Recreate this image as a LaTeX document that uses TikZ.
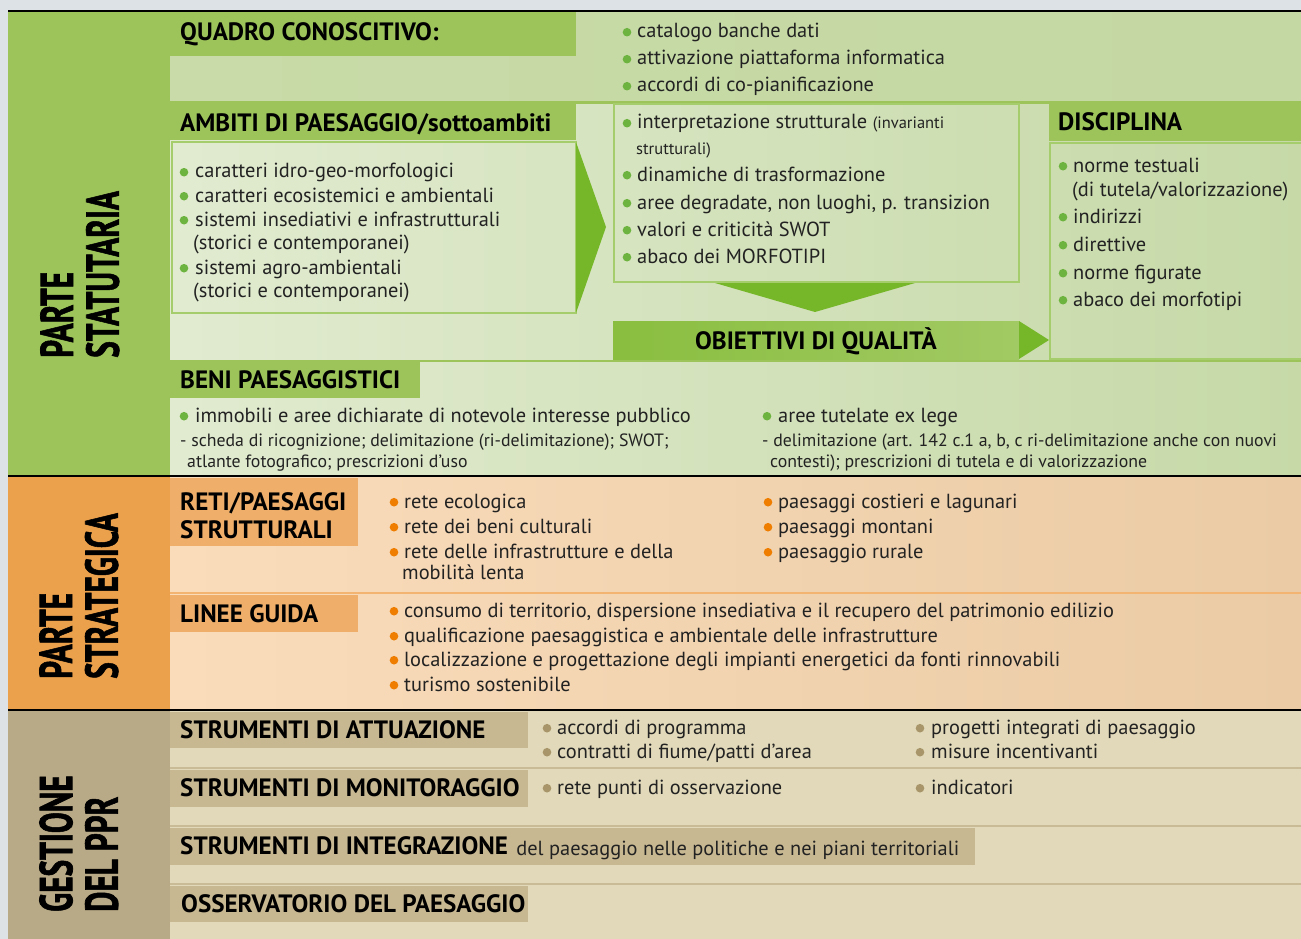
\documentclass[tikz,border=0pt]{standalone}
\usepackage{fontspec}
\setmainfont{PT Sans}
\newfontfamily\vlabfam{PT Sans}[BoldFeatures={FakeBold=1.6}]
\usepackage{graphicx}
\definecolor{bgrey}{HTML}{DCE2E5}
\definecolor{gdark}{HTML}{9CC45A}
\definecolor{garrow}{HTML}{76B72A}
\definecolor{glightL}{HTML}{E1EBD0}
\definecolor{glightR}{HTML}{C6D9A7}
\definecolor{gquadL}{HTML}{C8DBA8}
\definecolor{gquadR}{HTML}{C4D8A3}
\definecolor{gbox}{HTML}{A6CD6C}
\definecolor{gbul}{HTML}{6DB33F}
\definecolor{gobjL}{HTML}{89BE3F}
\definecolor{gobjR}{HTML}{A2CA64}
\definecolor{odark}{HTML}{EBA04C}
\definecolor{ohead}{HTML}{EFAF6B}
\definecolor{olightL}{HTML}{FADCBB}
\definecolor{olightR}{HTML}{EACBA5}
\definecolor{obul}{HTML}{EE7D00}
\definecolor{oline}{HTML}{F2B470}
\definecolor{tdark}{HTML}{B8AA86}
\definecolor{thead}{HTML}{C7B892}
\definecolor{tlight}{HTML}{E1D9B9}
\definecolor{tline}{HTML}{C9BB96}
\definecolor{tbul}{HTML}{A8956A}
\definecolor{txtc}{HTML}{222222}
\newcommand\bodyf{\fontsize{20.4}{24}\selectfont}
\newcommand\smallf{\fontsize{17.8}{20}\selectfont}
\newcommand\tinyf{\fontsize{16.5}{20}\selectfont}
\newcommand\headf{\fontsize{25.1}{28}\selectfont\bfseries}
\newcommand\vlabf{\vlabfam\fontsize{46}{43}\selectfont\bfseries}
\newcommand\bit[6]{\fill[#5] (#2,#4-4.8) circle (4.3pt); \node[txt] (#1) at (#3,#4) {#6};}
\newcommand\vtext[2]{\scalebox{0.68}[1]{\begin{tabular}{@{}l@{}}#1\\#2\end{tabular}}}
\begin{document}
\begin{tikzpicture}[x=1pt,y=-1pt,
 txt/.style={anchor=base west, inner sep=0pt, text=txtc, font=\bodyf, yshift=-1pt},
 sm/.style={txt, font=\smallf},
 hd/.style={anchor=base west, inner sep=0pt, text=black, font=\headf, yshift=-0.5pt},
 vlab/.style={rotate=90, anchor=west, inner sep=0pt, text=black, font=\vlabf},
 blk/.style={black, line width=2.5pt},
 boxline/.style={gbox, line width=1.5pt}]
\useasboundingbox (0,0) rectangle (1301,939);
\fill[bgrey] (0,0) rectangle (1301,939);
% ---------- green section ----------
\fill[gdark] (8,12) rectangle (170,476);
\fill[left color=glightL, right color=glightR] (170,12) rectangle (1301,476);
\fill[left color=gquadL, right color=gquadR] (170,12) rectangle (1301,101);
\fill[gdark] (170,12) rectangle (576,56);
\draw[gdark, line width=2.5pt] (170,102.5) -- (1301,102.5);
\fill[gdark] (170,104) rectangle (576,140);
\draw[boxline] (172,142) rectangle (576,313);
\fill[garrow] (576,142) -- (606,227) -- (576,313) -- cycle;
\draw[boxline] (614,104) rectangle (1019,282);
\fill[garrow] (715,283) -- (915,283) -- (815,312) -- cycle;
\fill[left color=gobjL, right color=gobjR] (613,321) rectangle (1019,359);
\fill[garrow] (1019,321) -- (1049,340) -- (1019,359) -- cycle;
\fill[gdark] (1049,104) rectangle (1301,141);
\draw[boxline] (1050,143) rectangle (1305,359);
\draw[gdark, line width=2pt] (170,361) -- (1301,361);
\fill[gdark] (170,362) rectangle (420,398);
\draw[blk] (8,11) -- (1301,11);
% ---------- orange section ----------
\fill[odark] (8,477) rectangle (170,709);
\fill[left color=olightL, right color=olightR] (170,477) rectangle (1301,709);
\fill[ohead] (170,478) rectangle (358,546);
\draw[oline, line width=2pt] (170,593) -- (1301,593);
\fill[ohead] (170,595) rectangle (358,632);
\draw[blk] (8,476) -- (1301,476);
% ---------- tan section ----------
\fill[tdark] (8,711) rectangle (170,939);
\fill[tlight] (170,711) rectangle (1301,939);
\fill[thead] (170,712) rectangle (528,748);
\draw[tline, line width=2.5pt] (170,768) -- (1301,768);
\fill[thead] (170,770) rectangle (528,807);
\draw[tline, line width=2.5pt] (170,826) -- (1301,826);
\fill[thead] (170,828) rectangle (975,865);
\draw[tline, line width=2.5pt] (170,884) -- (1301,884);
\fill[thead] (170,886) rectangle (528,922);
\draw[blk] (8,710) -- (1301,710);
% ---------- vertical labels ----------
\node[vlab] (vstat) at (86,358) {\vtext{PARTE}{STATUTARIA}};
\node[vlab] (vstrat) at (85,679) {\vtext{PARTE}{STRATEGICA}};
\node[vlab] (vgest) at (85,912) {\vtext{GESTIONE}{DEL PPR}};
% ---------- green texts ----------
\node[hd] (hquad) at (180,40) {QUADRO CONOSCITIVO:};
\bit{q1}{627}{637}{37}{gbul}{catalogo banche dati}
\bit{q2}{627}{637}{64}{gbul}{attivazione piattaforma informatica}
\bit{q3}{627}{637}{91}{gbul}{accordi di co-pianificazione}
\node[hd] (hamb) at (180,131) {AMBITI DI PAESAGGIO/sottoambiti};
\bit{a1}{184}{195}{177}{gbul}{caratteri idro-geo-morfologici}
\bit{a2}{184}{195}{201}{gbul}{caratteri ecosistemici e ambientali}
\bit{a3}{184}{195}{225}{gbul}{sistemi insediativi e infrastrutturali}
\node[txt] (a3b) at (193,248) {(storici e contemporanei)};
\bit{a4}{184}{195}{273}{gbul}{sistemi agro-ambientali}
\node[txt] (a4b) at (193,296) {(storici e contemporanei)};
\bit{m1}{627}{637}{128}{gbul}{interpretazione strutturale {\tinyf(invarianti}}
\node[txt, font=\tinyf] (m1b) at (636,153) {strutturali)};
\bit{m2}{627}{637}{180}{gbul}{dinamiche di trasformazione}
\bit{m3}{627}{637}{208}{gbul}{aree degradate, non luoghi, p. transizion}
\bit{m4}{627}{637}{235}{gbul}{valori e criticità SWOT}
\bit{m5}{627}{637}{262}{gbul}{abaco dei MORFOTIPI}
\node[hd, anchor=base] (hobj) at (816,349) {OBIETTIVI DI QUALITÀ};
\node[hd] (hdisc) at (1058,130) {DISCIPLINA};
\bit{d1}{1063}{1073}{171}{gbul}{norme testuali}
\node[txt] (d1b) at (1072,195) {(di tutela/valorizzazione)};
\bit{d2}{1063}{1073}{222}{gbul}{indirizzi}
\bit{d3}{1063}{1073}{250}{gbul}{direttive}
\bit{d4}{1063}{1073}{278}{gbul}{norme figurate}
\bit{d5}{1063}{1073}{305}{gbul}{abaco dei morfotipi}
\node[hd] (hbeni) at (180,388) {BENI PAESAGGISTICI};
\bit{b1}{184}{195}{421}{gbul}{immobili e aree dichiarate di notevole interesse pubblico}
\node[sm] (b1b) at (180,445) {- scheda di ricognizione; delimitazione (ri-delimitazione); SWOT;};
\node[sm] (b1c) at (187,466) {atlante fotografico; prescrizioni d’uso};
\bit{b2}{767}{778}{421}{gbul}{aree tutelate ex lege}
\node[sm] (b2b) at (762,445) {- delimitazione (art. 142 c.1 a, b, c ri-delimitazione anche con nuovi};
\node[sm] (b2c) at (770,466) {contesti); prescrizioni di tutela e di valorizzazione};
% ---------- orange texts ----------
\node[hd] (hreti) at (180,510) {RETI/PAESAGGI};
\node[hd] (hreti2) at (180,538) {STRUTTURALI};
\bit{r1}{394}{404}{507}{obul}{rete ecologica}
\bit{r2}{394}{404}{532}{obul}{rete dei beni culturali}
\bit{r3}{394}{404}{557}{obul}{rete delle infrastrutture e della}
\node[txt] (r3b) at (402,578) {mobilità lenta};
\bit{p1}{768}{778}{507}{obul}{paesaggi costieri e lagunari}
\bit{p2}{768}{778}{532}{obul}{paesaggi montani}
\bit{p3}{768}{778}{557}{obul}{paesaggio rurale}
\node[hd] (hlinee) at (180,622) {LINEE GUIDA};
\bit{l1}{394}{404}{616}{obul}{consumo di territorio, dispersione insediativa e il recupero del patrimonio edilizio}
\bit{l2}{394}{404}{641}{obul}{qualificazione paesaggistica e ambientale delle infrastrutture}
\bit{l3}{394}{404}{665}{obul}{localizzazione e progettazione degli impianti energetici da fonti rinnovabili}
\bit{l4}{394}{404}{690}{obul}{turismo sostenibile}
% ---------- tan texts ----------
\node[hd] (hatt) at (180,738) {STRUMENTI DI ATTUAZIONE};
\bit{t1}{547}{557}{733}{tbul}{accordi di programma}
\bit{t2}{547}{557}{757}{tbul}{contratti di fiume/patti d’area}
\bit{t3}{920}{931}{733}{tbul}{progetti integrati di paesaggio}
\bit{t4}{920}{931}{757}{tbul}{misure incentivanti}
\node[hd] (hmon) at (180,796) {STRUMENTI DI MONITORAGGIO};
\bit{t5}{547}{557}{793}{tbul}{rete punti di osservazione}
\bit{t6}{920}{931}{793}{tbul}{indicatori}
\node[hd] (hint) at (180,854) {STRUMENTI DI INTEGRAZIONE};
\node[txt] (tint) at ([xshift=8pt]hint.base east) {del paesaggio nelle politiche e nei piani territoriali};
\node[hd] (hoss) at (181,912) {OSSERVATORIO DEL PAESAGGIO};
\end{tikzpicture}
\end{document}
